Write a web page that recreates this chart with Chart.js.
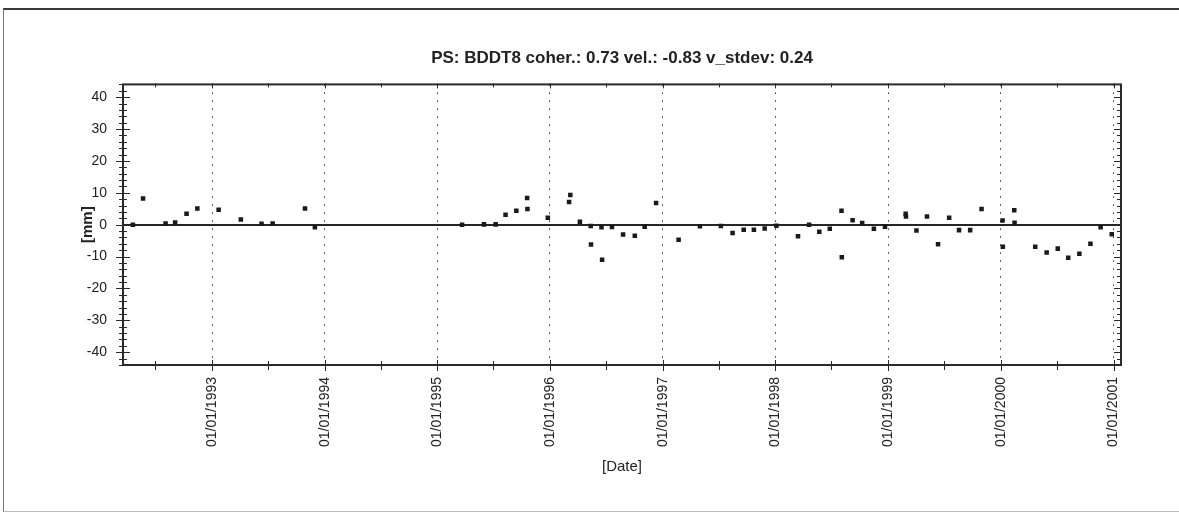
<!DOCTYPE html>
<html>
<head>
<meta charset="utf-8">
<script src="https://cdn.jsdelivr.net/npm/chart.js@4.4.1/dist/chart.umd.min.js"></script>
<style>
  html, body { margin: 0; padding: 0; background: #fff; }
  #wrap { position: relative; width: 1179px; height: 527px; overflow: hidden; }
  #frame { position: absolute; left: 3px; top: 8px; width: 1180px; height: 501px;
           border-top: 2px solid #3a3a3a; border-left: 1px solid #777; border-bottom: 1px solid #bbb;
           pointer-events: none; }
  canvas { position: absolute; left: 0; top: 0; }
</style>
</head>
<body>
<div id="wrap">
  <canvas id="c" width="1179" height="527"></canvas>
  <div id="frame"></div>
</div>
<script>
// ---- data ----
const dates = [
  '1992-04-19','1992-05-22','1992-08-03','1992-09-03','1992-10-10','1992-11-14',
  '1993-01-22','1993-04-04','1993-06-10','1993-07-16','1993-10-29','1993-11-30',
  '1995-03-22','1995-06-01','1995-07-09','1995-08-10','1995-09-14','1995-10-19','1995-10-20','1995-12-25',
  '1996-03-03','1996-03-07','1996-04-07','1996-05-12','1996-05-13','1996-06-16','1996-06-18','1996-07-20',
  '1996-08-25','1996-10-02','1996-11-03','1996-12-10',
  '1997-02-21','1997-05-01','1997-07-08','1997-08-15','1997-09-20','1997-10-23','1997-11-27',
  '1998-01-04','1998-03-15','1998-04-20','1998-05-23','1998-06-26','1998-08-03','1998-08-04',
  '1998-09-08','1998-10-09','1998-11-16','1998-12-22',
  '1999-02-27','1999-02-28','1999-04-03','1999-05-07','1999-06-12','1999-07-18','1999-08-19',
  '1999-09-24','1999-10-31',
  '2000-01-07','2000-01-08','2000-02-14','2000-02-15','2000-04-22','2000-05-29','2000-07-04',
  '2000-08-07','2000-09-12','2000-10-18','2000-11-20','2000-12-26'
];
const displacement = [
  0.0, 8.2, 0.4, 0.7, 3.4, 5.1,
  4.7, 1.6, 0.3, 0.4, 5.1, -0.8,
  0.0, 0.1, 0.1, 3.1, 4.4, 8.4, 4.9, 2.2,
  7.1, 9.3, 0.9, -0.4, -6.2, -0.8, -11.0, -0.7,
  -3.1, -3.5, -0.6, 6.8,
  -4.7, -0.5, -0.4, -2.6, -1.6, -1.6, -1.2,
  -0.3, -3.6, 0.0, -2.2, -1.3, 4.4, -10.2,
  1.4, 0.5, -1.3, -0.6,
  3.4, 2.6, -1.8, 2.6, -6.1, 2.2, -1.7,
  -1.7, 4.9,
  1.3, -6.9, 4.5, 0.6, -6.9, -8.7, -7.5,
  -10.4, -9.1, -6.0, -0.8, -3.0
];
const xTickLabels = ['01/01/1993','01/01/1994','01/01/1995','01/01/1996','01/01/1997',
                     '01/01/1998','01/01/1999','01/01/2000','01/01/2001'];
const yTickValues = [-40, -30, -20, -10, 0, 10, 20, 30, 40];
const xRange = ['1992-03-18', '2001-01-25'];
const yRange = [-44, 44];
const titleText = 'PS: BDDT8 coher.: 0.73 vel.: -0.83 v_stdev: 0.24';

// ---- helpers ----
const toTime = s => Date.parse(s + 'T00:00:00Z');
const labelToTime = l => { const p = l.split('/'); return Date.UTC(+p[2], +p[1] - 1, +p[0]); };
const xTickValues = xTickLabels.map(labelToTime);

const FONT = "'Liberation Sans', Arial, sans-serif";
const INK = '#222';

const framePlugin = {
  id: 'frame',
  afterDatasetsDraw(chart) {
    const {ctx, chartArea: a, scales: {x, y}} = chart;
    ctx.save();
    ctx.strokeStyle = '#2a2a2a';
    const seg = (x1, y1, x2, y2) => { ctx.beginPath(); ctx.moveTo(x1, y1); ctx.lineTo(x2, y2); ctx.stroke(); };
    ctx.lineWidth = 1;
    // y-axis ticks: majors at labels, minors every 2 mm
    for (let v = yRange[0]; v <= yRange[1]; v += 2) {
      const py = Math.round(y.getPixelForValue(v)) + 0.5;
      const major = v % 10 === 0;
      const L = major ? 7 : 4;
      seg(a.left - L, py, a.left + L, py);
      seg(a.right - (major ? 7 : 4), py, a.right + 1, py);
    }
    // x-axis ticks: years (major) and mid-years (minor)
    const y0 = new Date(toTime(xRange[0])).getUTCFullYear();
    const y1 = new Date(toTime(xRange[1])).getUTCFullYear();
    for (let yr = y0; yr <= y1 + 1; yr++) {
      [[Date.UTC(yr, 0, 1), true], [Date.UTC(yr, 6, 1), false]].forEach(([t, major]) => {
        if (t < x.min || t > x.max) return;
        const px = Math.round(x.getPixelForValue(t)) + 0.5;
        seg(px, a.bottom - (major ? 5 : 4), px, a.bottom + (major ? 6 : 5));
        seg(px, a.top - 1, px, a.top + (major ? 4 : 3));
      });
    }
    // plot frame
    ctx.lineWidth = 2;
    ctx.strokeRect(a.left, a.top, a.right - a.left, a.bottom - a.top);
    ctx.restore();
  }
};

new Chart(document.getElementById('c'), {
  type: 'scatter',
  data: {
    datasets: [{
      data: dates.map((d, i) => ({x: toTime(d), y: displacement[i]})),
      pointStyle: 'rect',
      pointRadius: 3.2,
      pointHoverRadius: 3.2,
      backgroundColor: '#1a1a1a',
      borderWidth: 0
    }]
  },
  options: {
    responsive: false,
    animation: false,
    events: [],
    layout: { padding: { left: 0, right: 58, top: 0, bottom: 0 } },
    plugins: {
      legend: { display: false },
      tooltip: { enabled: false },
      title: {
        display: true,
        text: titleText,
        fullSize: false,
        color: INK,
        font: { family: FONT, size: 17, weight: 'bold' },
        padding: { top: 48, bottom: 16 }
      }
    },
    scales: {
      x: {
        type: 'linear',
        min: toTime(xRange[0]),
        max: toTime(xRange[1]),
        afterBuildTicks: s => { s.ticks = xTickValues.map(v => ({value: v})); },
        afterFit: s => { s.height = 162; },
        ticks: {
          autoSkip: false,
          maxRotation: 90,
          minRotation: 90,
          padding: 12,
          color: INK,
          font: { family: FONT, size: 14 },
          callback: (v) => xTickLabels[xTickValues.indexOf(v)]
        },
        grid: { color: '#333', lineWidth: 1, drawTicks: false },
        border: { display: false, dash: [1.5, 6.5] },
        title: {
          display: true, text: '[Date]', color: INK,
          font: { family: FONT, size: 15, weight: 'normal' },
          padding: { top: 0, bottom: 51 }
        }
      },
      y: {
        type: 'linear',
        min: yRange[0],
        max: yRange[1],
        afterBuildTicks: s => { s.ticks = yTickValues.map(v => ({value: v})); },
        afterFit: s => { s.width = 123; },
        ticks: {
          padding: 16,
          color: INK,
          font: { family: FONT, size: 14 }
        },
        grid: {
          drawTicks: false,
          color: c => (c.tick && c.tick.value === 0) ? '#262626' : 'rgba(0,0,0,0)',
          lineWidth: c => (c.tick && c.tick.value === 0) ? 2 : 1
        },
        border: { display: false },
        title: {
          display: true, text: '[mm]', color: INK,
          font: { family: FONT, size: 15, weight: 'bold' },
          padding: { top: 79, bottom: 0 }
        }
      }
    }
  },
  plugins: [framePlugin]
});
</script>
</body>
</html>
